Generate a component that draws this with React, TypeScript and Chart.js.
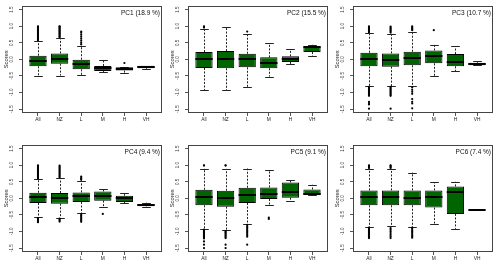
import React, { useEffect, useRef } from 'react';
import { Chart, registerables } from 'chart.js';

Chart.register(...registerables);

const FONT = "'Liberation Sans', Arial, Helvetica, sans-serif";

const categories = ['All', 'NZ', 'L', 'M', 'H', 'VH'];
const yTickValues = [-1.5, -1.0, -0.5, 0.0, 0.5, 1.0, 1.5];
const titles = ['PC1 (18.9 %)', 'PC2 (15.5 %)', 'PC3 (10.7 %)', 'PC4 (9.4 %)', 'PC5 (9.1 %)', 'PC6 (7.4 %)'];

// PC1
const pc1Lower = [-0.49, -0.49, -0.48, -0.38, -0.41, -0.3];
const pc1Q1 = [-0.21, -0.13, -0.3, -0.35, -0.34, -0.27];
const pc1Median = [-0.04, 0.02, -0.14, -0.26, -0.3, -0.23];
const pc1Q3 = [0.11, 0.18, -0.01, -0.2, -0.24, -0.19];
const pc1Upper = [0.55, 0.64, 0.41, -0.02, -0.24, -0.19];
const pc1Outliers = [
  [0.58, 0.61, 0.63, 0.66, 0.68, 0.71, 0.73, 0.76, 0.78, 0.81, 0.83, 0.86, 0.88, 0.91, 0.93, 0.96, 0.98, 1.0],
  [0.67, 0.69, 0.72, 0.74, 0.77, 0.79, 0.82, 0.84, 0.87, 0.89, 0.92, 0.94, 0.97, 0.99, 1.0],
  [0.45, 0.5, 0.56, 0.62, 0.68, 0.74, 0.8, 0.84],
  [],
  [-0.11],
  [],
];

// PC2
const pc2Lower = [-0.94, -0.94, -0.83, -0.52, -0.15, 0.1];
const pc2Q1 = [-0.26, -0.27, -0.24, -0.27, -0.08, 0.22];
const pc2Median = [0.0, 0.0, 0.0, -0.12, 0.01, 0.36];
const pc2Q3 = [0.22, 0.25, 0.17, 0.06, 0.09, 0.39];
const pc2Upper = [0.93, 0.98, 0.77, 0.49, 0.3, 0.44];
const pc2Outliers = [[0.96, 0.98, 1.0], [], [0.84], [], [], []];

// PC3
const pc3Lower = [-0.8, -0.81, -0.79, -0.5, -0.35, -0.18];
const pc3Q1 = [-0.21, -0.22, -0.18, -0.12, -0.21, -0.18];
const pc3Median = [0.01, -0.01, 0.05, 0.09, -0.09, -0.13];
const pc3Q3 = [0.2, 0.18, 0.23, 0.27, 0.16, -0.1];
const pc3Upper = [0.79, 0.78, 0.84, 0.44, 0.39, -0.05];
const pc3Outliers = [
  [0.82, 0.85, 0.88, 0.91, 0.94, 0.97, 1.0, -0.83, -0.86, -0.89, -0.92, -0.95, -0.98, -1.01, -1.04, -1.07, -1.1, -1.28, -1.32, -1.36, -1.49],
  [0.81, 0.84, 0.87, 0.9, 0.93, 0.96, 0.99, -0.83, -0.86, -0.89, -0.92, -0.95, -0.98, -1.01, -1.04, -1.07, -1.1, -1.49],
  [0.88, 0.91, 0.94, 0.97, 1.0, -0.85, -0.92, -0.98, -1.04, -1.2, -1.28, -1.33, -1.48],
  [0.88],
  [],
  [],
];

// PC4
const pc4Lower = [-0.56, -0.58, -0.45, -0.25, -0.15, -0.25];
const pc4Q1 = [-0.14, -0.16, -0.11, -0.07, -0.11, -0.24];
const pc4Median = [0.03, 0.01, 0.06, 0.08, 0.0, -0.2];
const pc4Q3 = [0.17, 0.16, 0.18, 0.21, 0.08, -0.17];
const pc4Upper = [0.58, 0.6, 0.53, 0.27, 0.16, -0.13];
const pc4Outliers = [
  [0.61, 0.64, 0.67, 0.7, 0.73, 0.76, 0.79, 0.82, 0.85, 0.88, 0.91, 0.94, 0.97, 1.0, -0.6, -0.63, -0.66, -0.69, -0.72],
  [0.63, 0.66, 0.69, 0.72, 0.75, 0.78, 0.81, 0.84, 0.87, 0.9, 0.93, 0.96, 0.99, -0.61, -0.64, -0.67, -0.7],
  [0.56, 0.59, 0.62, 0.66, -0.48, -0.52, -0.56, -0.6, -0.64, -0.68, -0.71],
  [-0.47],
  [],
  [],
];

// PC5
const pc5Lower = [-0.92, -0.97, -0.76, -0.21, -0.07, 0.1];
const pc5Q1 = [-0.21, -0.25, -0.14, -0.02, 0.02, 0.1];
const pc5Median = [0.05, 0.01, 0.1, 0.14, 0.18, 0.13];
const pc5Q3 = [0.26, 0.23, 0.32, 0.33, 0.48, 0.27];
const pc5Upper = [0.9, 0.89, 0.9, 0.86, 0.54, 0.41];
const pc5Outliers = [
  [0.99, 1.0, -0.94, -0.97, -1.0, -1.03, -1.06, -1.09, -1.12, -1.15, -1.18, -1.21, -1.3, -1.4, -1.5],
  [0.99, 1.0, -0.99, -1.02, -1.05, -1.08, -1.11, -1.14, -1.17, -1.2, -1.4, -1.5],
  [-0.8, -0.84, -0.88, -0.92, -0.96, -1.0, -1.04, -1.08, -1.12, -1.16, -1.4],
  [-0.58, -0.62],
  [],
  [],
];

// PC6
const pc6Lower = [-0.86, -0.82, -0.86, -0.76, -0.92, -0.36];
const pc6Q1 = [-0.21, -0.21, -0.21, -0.28, -0.47, -0.36];
const pc6Median = [0.03, 0.03, 0.01, 0.03, 0.18, -0.36];
const pc6Q3 = [0.24, 0.24, 0.24, 0.24, 0.36, -0.36];
const pc6Upper = [0.9, 0.89, 0.78, 0.48, 0.5, -0.36];
const pc6Outliers = [
  [0.92, 0.95, 0.98, 1.0, -0.88, -0.91, -0.94, -0.97, -1.0, -1.03, -1.06, -1.09, -1.12, -1.15, -1.18, -1.2],
  [0.92, 0.95, 0.98, 1.0, -0.9, -0.95, -1.0, -1.05, -1.1, -1.15, -1.2],
  [-0.88, -0.92, -0.96, -1.0, -1.04, -1.08, -1.12, -1.16, -1.19],
  [],
  [],
  [],
];

interface PanelData {
  title: string;
  lower: number[];
  q1: number[];
  median: number[];
  q3: number[];
  upper: number[];
  outliers: number[][];
}

const panels: PanelData[] = [
  { title: titles[0], lower: pc1Lower, q1: pc1Q1, median: pc1Median, q3: pc1Q3, upper: pc1Upper, outliers: pc1Outliers },
  { title: titles[1], lower: pc2Lower, q1: pc2Q1, median: pc2Median, q3: pc2Q3, upper: pc2Upper, outliers: pc2Outliers },
  { title: titles[2], lower: pc3Lower, q1: pc3Q1, median: pc3Median, q3: pc3Q3, upper: pc3Upper, outliers: pc3Outliers },
  { title: titles[3], lower: pc4Lower, q1: pc4Q1, median: pc4Median, q3: pc4Q3, upper: pc4Upper, outliers: pc4Outliers },
  { title: titles[4], lower: pc5Lower, q1: pc5Q1, median: pc5Median, q3: pc5Q3, upper: pc5Upper, outliers: pc5Outliers },
  { title: titles[5], lower: pc6Lower, q1: pc6Q1, median: pc6Median, q3: pc6Q3, upper: pc6Upper, outliers: pc6Outliers },
];

const CANVAS_W = 166;
const CANVAS_H = 125;
const PLOT_LEFT = 22;
const PLOT_RIGHT_PAD = 2;
const PLOT_TOP = 3;
const PLOT_BOTTOM = 113;

function makeBoxPlugin(p: PanelData, idx: number) {
  return {
    id: 'boxExtras' + idx,
    beforeDatasetsDraw(chart: any) {
      const ctx = chart.ctx;
      const y = chart.scales.y;
      const bars = chart.getDatasetMeta(0).data;
      ctx.save();
      ctx.strokeStyle = '#222';
      ctx.lineWidth = 1;
      bars.forEach((bar: any, i: number) => {
        const x = Math.round(bar.x) + 0.5;
        const w = bar.width;
        const yLo = y.getPixelForValue(p.lower[i]);
        const yHi = y.getPixelForValue(p.upper[i]);
        const yQ1 = y.getPixelForValue(p.q1[i]);
        const yQ3 = y.getPixelForValue(p.q3[i]);
        ctx.setLineDash([2, 1.5]);
        ctx.beginPath();
        ctx.moveTo(x, yQ3);
        ctx.lineTo(x, yHi);
        ctx.moveTo(x, yQ1);
        ctx.lineTo(x, yLo);
        ctx.stroke();
        ctx.setLineDash([]);
        ctx.beginPath();
        ctx.moveTo(x - w / 4, Math.round(yHi) + 0.5);
        ctx.lineTo(x + w / 4, Math.round(yHi) + 0.5);
        ctx.moveTo(x - w / 4, Math.round(yLo) + 0.5);
        ctx.lineTo(x + w / 4, Math.round(yLo) + 0.5);
        ctx.stroke();
      });
      ctx.restore();
    },
    afterDatasetsDraw(chart: any) {
      const ctx = chart.ctx;
      const y = chart.scales.y;
      const bars = chart.getDatasetMeta(0).data;
      ctx.save();
      ctx.strokeStyle = '#000';
      ctx.lineWidth = 2;
      bars.forEach((bar: any, i: number) => {
        const w = bar.width;
        const ym = Math.round(y.getPixelForValue(p.median[i]));
        ctx.beginPath();
        ctx.moveTo(bar.x - w / 2, ym);
        ctx.lineTo(bar.x + w / 2, ym);
        ctx.stroke();
      });
      ctx.restore();
    },
    afterDraw(chart: any) {
      const ctx = chart.ctx;
      const a = chart.chartArea;
      ctx.save();
      ctx.strokeStyle = '#444';
      ctx.lineWidth = 1;
      ctx.strokeRect(Math.round(a.left) + 0.5, Math.round(a.top) + 0.5, Math.round(a.right - a.left) - 1, Math.round(a.bottom - a.top) - 1);
      ctx.fillStyle = '#111';
      ctx.font = `6.5px ${FONT}`;
      ctx.textAlign = 'right';
      ctx.textBaseline = 'middle';
      ctx.fillText(p.title, a.right - 2, a.top + 8);
      ctx.restore();
    },
  };
}

function BoxPanel({ data, idx, left, top }: { data: PanelData; idx: number; left: number; top: number }) {
  const ref = useRef<HTMLCanvasElement | null>(null);
  useEffect(() => {
    if (!ref.current) return;
    const boxes = categories.map((_, i) => ({ x: i + 1, y: [data.q1[i], data.q3[i]] }));
    const outs: { x: number; y: number }[] = [];
    data.outliers.forEach((list, i) => list.forEach((v) => outs.push({ x: i + 1, y: v })));
    const chart = new Chart(ref.current, {
      type: 'bar',
      data: {
        datasets: [
          {
            type: 'bar',
            data: boxes as any,
            backgroundColor: '#006400',
            borderColor: '#000',
            borderWidth: 1,
            borderSkipped: false,
            barPercentage: 0.8,
            categoryPercentage: 1,
          } as any,
          {
            type: 'scatter',
            data: outs as any,
            pointRadius: 1.1,
            pointBackgroundColor: '#000',
            pointBorderWidth: 0,
            pointBorderColor: '#000',
          } as any,
        ],
      },
      options: {
        animation: false,
        responsive: false,
        devicePixelRatio: 1,
        layout: { padding: { top: PLOT_TOP, right: PLOT_RIGHT_PAD, left: 0, bottom: 0 } },
        plugins: { legend: { display: false }, tooltip: { enabled: false }, title: { display: false } },
        scales: {
          x: {
            type: 'linear',
            min: 0.26,
            max: 6.74,
            bounds: 'data',
            offset: false,
            afterBuildTicks: (axis: any) => {
              axis.ticks = categories.map((_, i) => ({ value: i + 1 }));
            },
            afterFit: (axis: any) => {
              axis.height = CANVAS_H - PLOT_BOTTOM;
            },
            grid: { display: true, offset: false, drawOnChartArea: false, drawTicks: true, tickLength: 3, color: '#555' },
            border: { display: false },
            ticks: {
              autoSkip: false,
              maxRotation: 0,
              minRotation: 0,
              padding: 1,
              color: '#222',
              font: { family: FONT, size: 4.8 },
              callback: (v: any) => categories[Math.round(Number(v)) - 1] ?? '',
            },
          } as any,
          y: {
            type: 'linear',
            min: -1.62,
            max: 1.62,
            bounds: 'data',
            afterBuildTicks: (axis: any) => {
              axis.ticks = yTickValues.map((v) => ({ value: v }));
            },
            afterFit: (axis: any) => {
              axis.width = PLOT_LEFT;
            },
            grid: { display: true, drawOnChartArea: false, drawTicks: true, tickLength: 3, color: '#555' },
            border: { display: false },
            title: { display: true, text: 'Scores', color: '#222', font: { family: FONT, size: 5.8 }, padding: { top: 3, bottom: 0 } },
            ticks: {
              autoSkip: false,
              minRotation: 90,
              maxRotation: 90,
              crossAlign: 'center',
              padding: 3,
              color: '#333',
              font: { family: FONT, size: 4.5 },
              callback: (v: any) => Number(v).toFixed(1),
            },
          } as any,
        },
      } as any,
      plugins: [makeBoxPlugin(data, idx)],
    });
    return () => chart.destroy();
  }, [data, idx]);
  return (
    <canvas
      ref={ref}
      width={CANVAS_W}
      height={CANVAS_H}
      style={{ position: 'absolute', left, top, width: CANVAS_W, height: CANVAS_H }}
    />
  );
}

const panelLefts = [0, 166, 331];
const panelTops = [0, 139];

export default function App() {
  return (
    <div style={{ position: 'fixed', left: 0, top: 0, width: 500, height: 264, background: '#fff', overflow: 'hidden' }}>
      {panels.map((p, i) => (
        <BoxPanel key={i} data={p} idx={i} left={panelLefts[i % 3]} top={panelTops[Math.floor(i / 3)]} />
      ))}
    </div>
  );
}
